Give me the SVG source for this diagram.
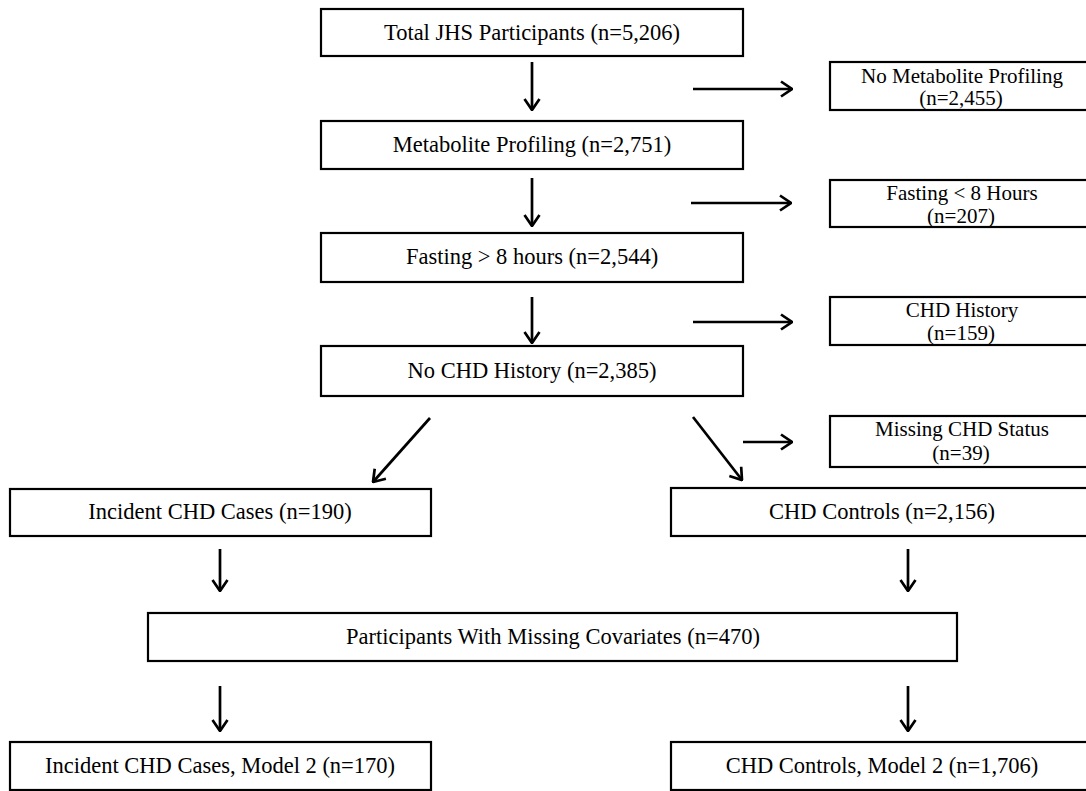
<svg xmlns="http://www.w3.org/2000/svg" width="1086" height="791" viewBox="0 0 1086 791">
<style>
  .box { fill: #ffffff; stroke: #000000; stroke-width: 2.2; }
  .t { font-family: "Liberation Serif", "Times New Roman", serif; font-size: 22.5px; fill: #000000; text-anchor: middle; }
  .s { font-family: "Liberation Serif", "Times New Roman", serif; font-size: 21px; fill: #000000; text-anchor: middle; }
  .c { stroke: #000000; stroke-width: 2.7; fill: none; marker-end: url(#ah); }
</style>
<defs>
  <marker id="ah" markerUnits="userSpaceOnUse" viewBox="0 0 13 18" refX="12" refY="9" markerWidth="13" markerHeight="18" orient="auto">
    <path d="M1,1.5 L12,9 L1,16.5" fill="none" stroke="#000000" stroke-width="2.7"/>
  </marker>
</defs>
<rect width="1086" height="791" fill="#ffffff"/>

<g id="n-total">
  <rect class="box" x="321" y="9" width="422" height="47"/>
  <text class="t" x="532" y="40">Total JHS Participants (n=5,206)</text>
</g>
<g id="n-nometab">
  <rect class="box" x="830" y="62" width="262" height="48"/>
  <text class="s" x="962" y="83">No Metabolite Profiling</text>
  <text class="s" x="961" y="105">(n=2,455)</text>
</g>
<g id="n-metab">
  <rect class="box" x="321" y="121" width="422" height="48"/>
  <text class="t" x="532" y="152">Metabolite Profiling (n=2,751)</text>
</g>
<g id="n-fastlt">
  <rect class="box" x="830" y="180" width="262" height="47"/>
  <text class="s" x="962" y="200">Fasting &lt; 8 Hours</text>
  <text class="s" x="961" y="223">(n=207)</text>
</g>
<g id="n-fastgt">
  <rect class="box" x="321" y="233" width="422" height="49"/>
  <text class="t" x="532" y="264">Fasting &gt; 8 hours (n=2,544)</text>
</g>
<g id="n-chdhist">
  <rect class="box" x="830" y="297" width="262" height="48"/>
  <text class="s" x="962" y="317">CHD History</text>
  <text class="s" x="961" y="340">(n=159)</text>
</g>
<g id="n-nochd">
  <rect class="box" x="321" y="346" width="422" height="50"/>
  <text class="t" x="532" y="378">No CHD History (n=2,385)</text>
</g>
<g id="n-missing">
  <rect class="box" x="830" y="416" width="262" height="51"/>
  <text class="s" x="962" y="436">Missing CHD Status</text>
  <text class="s" x="961" y="460">(n=39)</text>
</g>
<g id="n-cases">
  <rect class="box" x="10" y="489" width="421" height="47"/>
  <text class="t" x="220" y="519">Incident CHD Cases (n=190)</text>
</g>
<g id="n-controls">
  <rect class="box" x="671" y="488" width="420" height="48"/>
  <text class="t" x="882" y="519">CHD Controls (n=2,156)</text>
</g>
<g id="n-missingcov">
  <rect class="box" x="148" y="613" width="809" height="48"/>
  <text class="t" x="553" y="644">Participants With Missing Covariates (n=470)</text>
</g>
<g id="n-cases2">
  <rect class="box" x="10" y="742" width="421" height="48"/>
  <text class="t" x="220" y="773">Incident CHD Cases, Model 2 (n=170)</text>
</g>
<g id="n-controls2">
  <rect class="box" x="671" y="742" width="420" height="48"/>
  <text class="t" x="882" y="773">CHD Controls, Model 2 (n=1,706)</text>
</g>

<g id="connectors">
  <line class="c" x1="532" y1="62" x2="532" y2="110"/>
  <line class="c" x1="693" y1="89" x2="792" y2="89"/>
  <line class="c" x1="532" y1="178" x2="532" y2="226"/>
  <line class="c" x1="691" y1="203" x2="791" y2="203"/>
  <line class="c" x1="532" y1="297" x2="532" y2="343"/>
  <line class="c" x1="693" y1="322" x2="792" y2="322"/>
  <line class="c" x1="430" y1="418" x2="373" y2="482"/>
  <line class="c" x1="693" y1="417" x2="742" y2="480"/>
  <line class="c" x1="743" y1="442" x2="792" y2="442"/>
  <line class="c" x1="220" y1="549" x2="220" y2="591"/>
  <line class="c" x1="908" y1="549" x2="908" y2="591"/>
  <line class="c" x1="220" y1="686" x2="220" y2="731"/>
  <line class="c" x1="908" y1="686" x2="908" y2="731"/>
</g>
</svg>
